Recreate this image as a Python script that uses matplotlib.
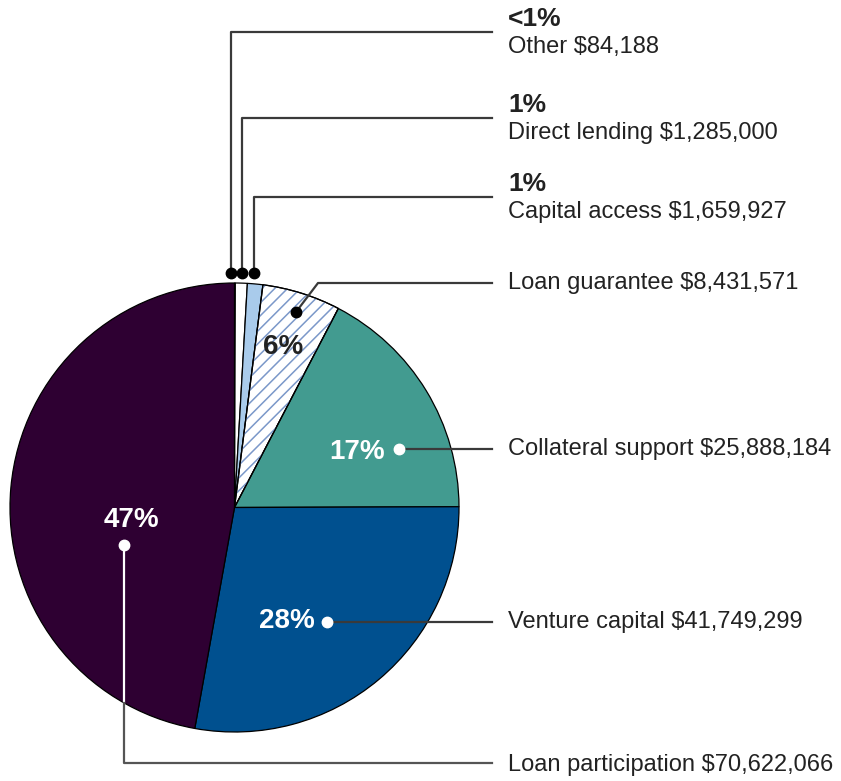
import numpy as np
import matplotlib.pyplot as plt
from matplotlib.patches import Wedge

plt.rcParams['font.family'] = ['Liberation Sans', 'DejaVu Sans']

# funding by program type, in dollars
programs = ['Other', 'Direct lending', 'Capital access', 'Loan guarantee',
            'Collateral support', 'Venture capital', 'Loan participation']
amounts = [84188, 1285000, 1659927, 8431571, 25888184, 41749299, 70622066]
pct_labels = ['<1%', '1%', '1%', '6%', '17%', '28%', '47%']
colors = ['white', 'white', '#a9cbeb', 'white', '#429b90', '#00508f', '#2e0032']

W, H = 841, 781
cx, cy, R = 234.5, 507.5, 224.5

fig = plt.figure(figsize=(W / 100, H / 100), dpi=100)
ax = fig.add_axes([0, 0, 1, 1])

# y axis is flipped, so counterclock=True draws clockwise on screen
wedges, _ = ax.pie(amounts, colors=colors, startangle=-90, counterclock=True,
                   center=(cx, cy), radius=R, frame=True,
                   wedgeprops=dict(edgecolor='black', linewidth=0.9))

# diagonal hatching for the loan guarantee slice, clipped to the wedge
wg = wedges[3]
for c in np.arange(0, 2 * W, 12.8):
    ln, = ax.plot([0, W], [c, c - W], color='#7b98c9', lw=1.1, zorder=1.5)
    ln.set_clip_path(wg)
ax.add_patch(Wedge((cx, cy), R, wg.theta1, wg.theta2, fill=False,
                   edgecolor='black', linewidth=0.9, zorder=2))

ax.set_xlim(0, W)
ax.set_ylim(H, 0)
ax.set_aspect('auto')
ax.axis('off')

line_c = '#3a3a3a'
text_c = '#222222'
tx = 508
name_fs = 17
pct_fs = 19

# small slices at the top: dot above the pie, line up and across
top_dots_x = [231, 242, 254]
top_lines_y = [32, 118, 197]
for i in range(3):
    x, y = top_dots_x[i], top_lines_y[i]
    ax.plot([x, x, 492], [273, y, y], color=line_c, lw=1.6, zorder=5)
    ax.plot(x, 273, 'o', color='black', ms=7.5, zorder=6)
    ax.text(tx, y - 13, pct_labels[i], fontsize=pct_fs, fontweight='bold',
            color=text_c, va='center', ha='left')
    ax.text(tx, y + 15, f'{programs[i]} ${amounts[i]:,}', fontsize=name_fs,
            color=text_c, va='center', ha='left')

# loan guarantee
ax.plot([296, 318, 492], [312, 283, 283], color=line_c, lw=1.6, zorder=5)
ax.plot(296, 312, 'o', color='black', ms=7.5, zorder=6)
ax.text(283, 347, pct_labels[3], fontsize=20, fontweight='bold', color='#222222',
        ha='center', va='center', zorder=6)
ax.text(tx, 283, f'{programs[3]} ${amounts[3]:,}', fontsize=name_fs,
        color=text_c, va='center', ha='left')

# collateral support and venture capital
for i, dot, lab in [(4, (399, 449), (357, 452)), (5, (327, 622), (287, 621))]:
    ax.plot([dot[0], 492], [dot[1], dot[1]], color=line_c, lw=1.6, zorder=5)
    ax.plot(*dot, 'o', color='white', ms=7.5, zorder=6)
    ax.text(*lab, pct_labels[i], fontsize=20, fontweight='bold', color='white',
            ha='center', va='center', zorder=6)
    ax.text(tx, dot[1], f'{programs[i]} ${amounts[i]:,}', fontsize=name_fs,
            color=text_c, va='center', ha='left')

# loan participation: white inside the pie, grey below it
lx, ly = 124, 545
edge_y = cy + (R ** 2 - (lx - cx) ** 2) ** 0.5
ax.plot([lx, lx], [ly, edge_y], color='white', lw=1.6, zorder=5)
ax.plot([lx, lx, 492], [edge_y, 763, 763], color='#555555', lw=1.6, zorder=5)
ax.plot(lx, ly, 'o', color='white', ms=7.5, zorder=6)
ax.text(131, 520, pct_labels[6], fontsize=20, fontweight='bold', color='white',
        ha='center', va='center', zorder=6)
ax.text(tx, 765, f'{programs[6]} ${amounts[6]:,}', fontsize=name_fs,
        color=text_c, va='center', ha='left')

fig.savefig('out.png', dpi=100)
